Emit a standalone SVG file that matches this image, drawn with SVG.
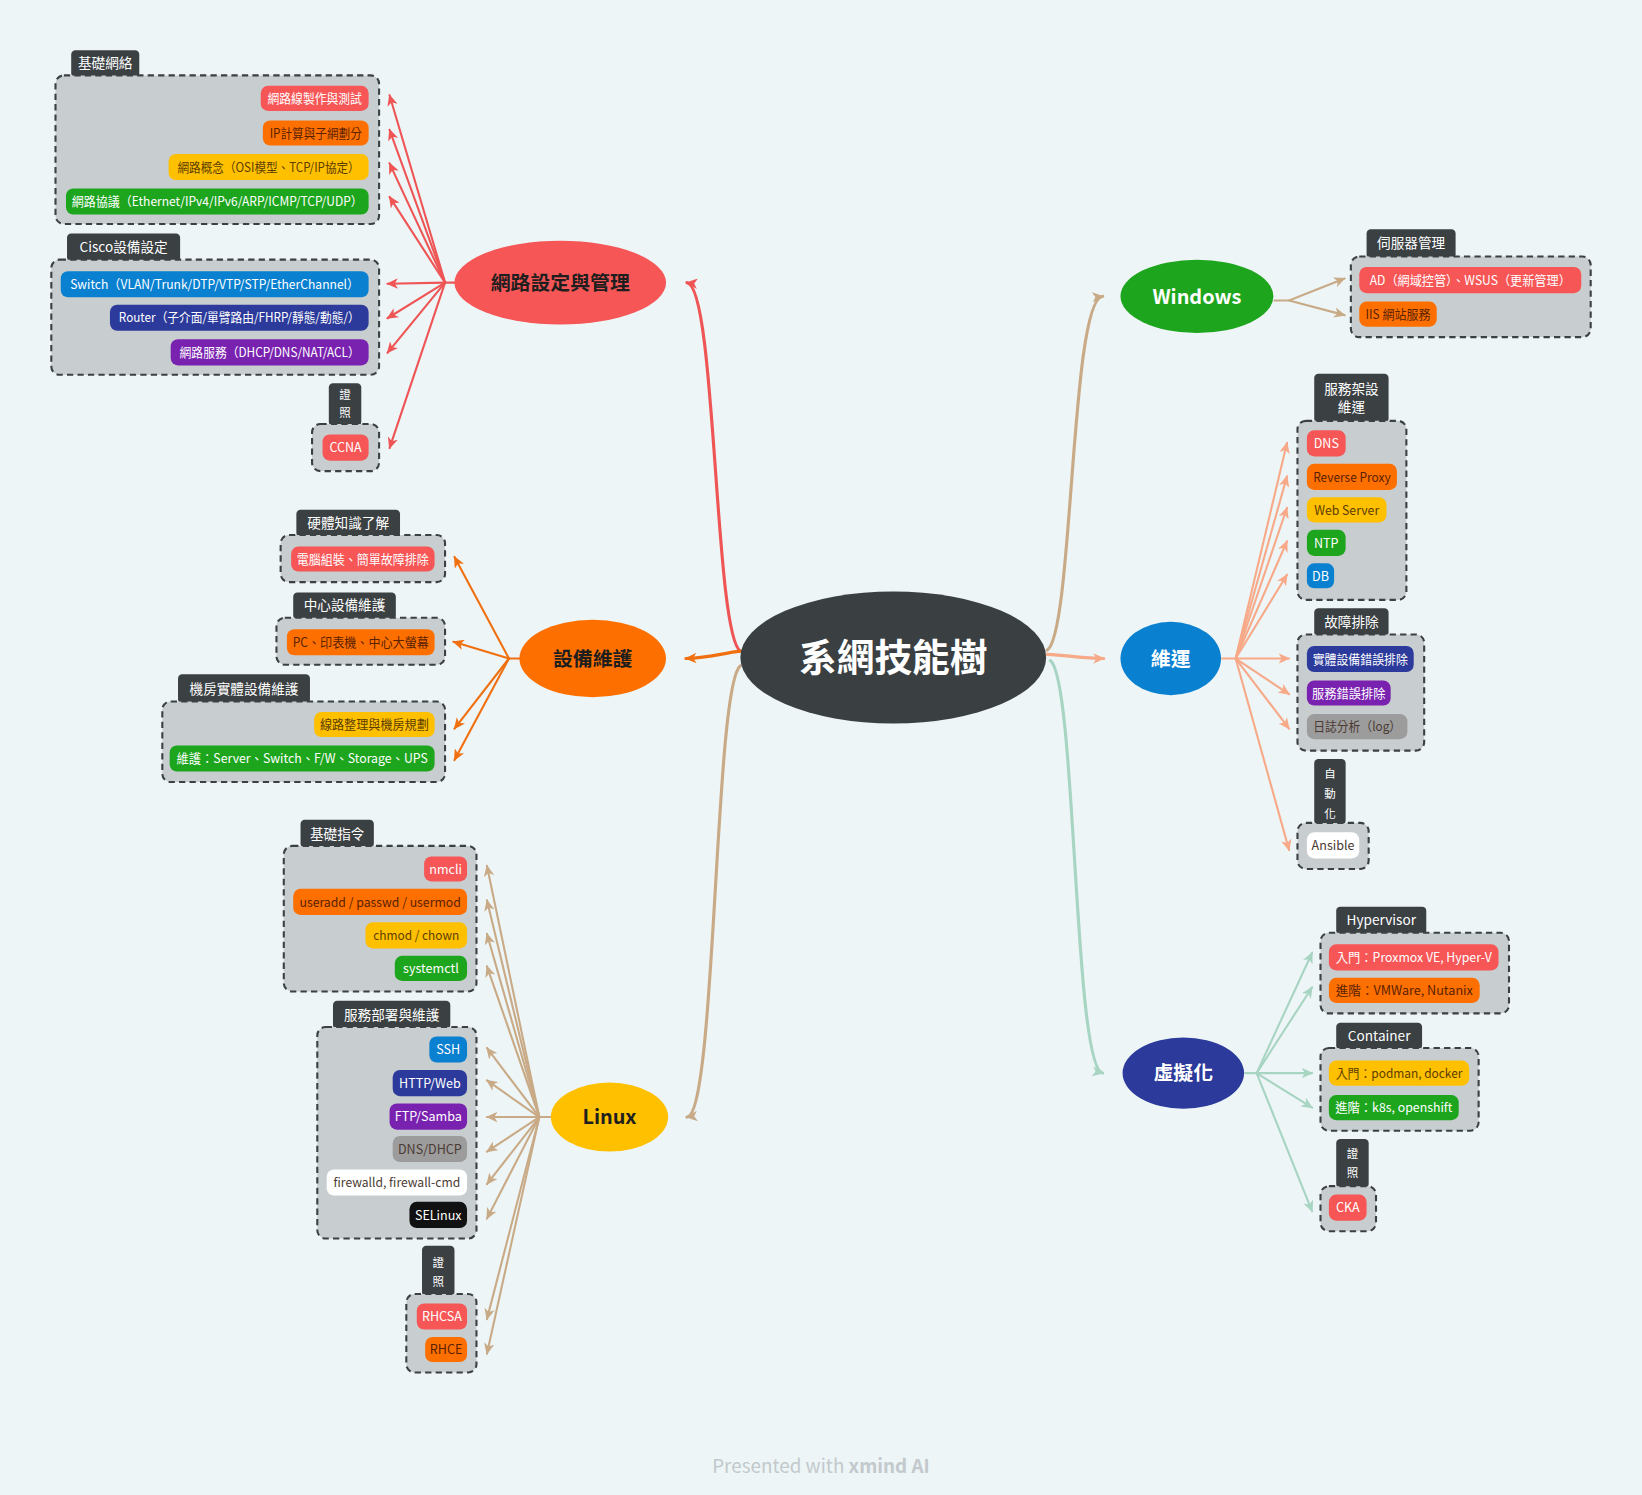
<svg xmlns="http://www.w3.org/2000/svg" width="1642" height="1495" viewBox="0 0 1642 1495">
<defs>
<style>
.t{font-family:"Noto Sans CJK TC","Noto Sans",sans-serif;}
.box{fill:#c8cdcf;stroke:#3b4043;stroke-width:2;stroke-dasharray:6 4;}
.tab{fill:#3b4043;}
.tt{fill:#ffffff;font-size:13px;text-anchor:middle;}
.vt{fill:#ffffff;font-size:11px;text-anchor:middle;}
.it{font-size:12px;text-anchor:middle;}
.w{fill:#ffffff;}
.d{fill:#5a2100;}
.yt{fill:#5c3d00;}
.gt{fill:#4b3a33;}
.red{fill:#f65656;}
.ora{fill:#fd7000;}
.yel{fill:#ffc000;}
.grn{fill:#1ea51e;}
.blu{fill:#0a80d0;}
.nav{fill:#2b3a9b;}
.pur{fill:#7a22b0;}
.gry{fill:#9c9c9c;}
.wht{fill:#ffffff;}
.blk{fill:#111111;}
.main{fill:none;stroke-width:3;stroke-linecap:round;}
.fan{fill:none;stroke-width:2;stroke-linecap:round;}
.bn{font-size:19px;font-weight:bold;text-anchor:middle;}
</style>
<marker id="mr" viewBox="0 0 11 10" refX="10" refY="5" markerWidth="11" markerHeight="10" markerUnits="userSpaceOnUse" orient="auto"><path d="M0,0 L11,5 L0,10 L3,5 Z" fill="#ef5555"/></marker>
<marker id="mo" viewBox="0 0 11 10" refX="10" refY="5" markerWidth="11" markerHeight="10" markerUnits="userSpaceOnUse" orient="auto"><path d="M0,0 L11,5 L0,10 L3,5 Z" fill="#f07010"/></marker>
<marker id="mt" viewBox="0 0 11 10" refX="10" refY="5" markerWidth="11" markerHeight="10" markerUnits="userSpaceOnUse" orient="auto"><path d="M0,0 L11,5 L0,10 L3,5 Z" fill="#c9aa86"/></marker>
<marker id="ms" viewBox="0 0 11 10" refX="10" refY="5" markerWidth="11" markerHeight="10" markerUnits="userSpaceOnUse" orient="auto"><path d="M0,0 L11,5 L0,10 L3,5 Z" fill="#f7a988"/></marker>
<marker id="mm" viewBox="0 0 11 10" refX="10" refY="5" markerWidth="11" markerHeight="10" markerUnits="userSpaceOnUse" orient="auto"><path d="M0,0 L11,5 L0,10 L3,5 Z" fill="#a8d4c2"/></marker>
</defs>
<rect x="0" y="0" width="1642" height="1495" fill="#edf5f7"/>
<g transform="scale(1.04719,1.04692)">

<g id="connectors">
<path class="main" stroke="#ef5555" marker-end="url(#mr)" d="M707,622 C682,605 684,273 656,270"/>
<path class="main" stroke="#f07010" marker-end="url(#mo)" d="M707,622 C690,624 678,628 655,629"/>
<path class="main" stroke="#c9aa86" marker-end="url(#mt)" d="M707,636 C682,655 684,1064 656,1067"/>
<path class="main" stroke="#c9aa86" marker-end="url(#mt)" d="M1000,621 C1025,605 1022,286 1053,283"/>
<path class="main" stroke="#f7a988" marker-end="url(#ms)" d="M1000,625 C1020,626 1035,629 1054,629"/>
<path class="main" stroke="#a8d4c2" marker-end="url(#mm)" d="M1003,631 C1028,650 1025,1020 1053,1025"/>

<g stroke="#ef5555" marker-end="url(#mr)">
<path class="fan" d="M435,270 L425,270 L372,91"/>
<path class="fan" d="M425,270 L372,124"/>
<path class="fan" d="M425,270 L372,156"/>
<path class="fan" d="M425,270 L372,188"/>
<path class="fan" d="M425,270 L370,271"/>
<path class="fan" d="M425,270 L370,304"/>
<path class="fan" d="M425,270 L370,337"/>
<path class="fan" d="M425,270 L372,428"/>
</g>
<g stroke="#f07010" marker-end="url(#mo)">
<path class="fan" d="M497,629 L486,629 L434,532"/>
<path class="fan" d="M486,629 L433,613"/>
<path class="fan" d="M486,629 L434,696"/>
<path class="fan" d="M486,629 L434,726"/>
</g>
<g stroke="#c9aa86" marker-end="url(#mt)">
<path class="fan" d="M527,1067 L515,1067 L465,827"/>
<path class="fan" d="M515,1067 L465,860"/>
<path class="fan" d="M515,1067 L465,892"/>
<path class="fan" d="M515,1067 L465,923"/>
<path class="fan" d="M515,1067 L465,1001"/>
<path class="fan" d="M515,1067 L465,1032"/>
<path class="fan" d="M515,1067 L465,1067"/>
<path class="fan" d="M515,1067 L465,1100"/>
<path class="fan" d="M515,1067 L465,1131"/>
<path class="fan" d="M515,1067 L465,1164"/>
<path class="fan" d="M515,1067 L465,1260"/>
<path class="fan" d="M515,1067 L465,1293"/>
</g>
<g stroke="#c9aa86" marker-end="url(#mt)">
<path class="fan" d="M1217,287 L1231,287 L1284,266"/>
<path class="fan" d="M1231,287 L1284,301"/>
</g>
<g stroke="#f7a988" marker-end="url(#ms)">
<path class="fan" d="M1167,629 L1180,629 L1229,423"/>
<path class="fan" d="M1180,629 L1229,455"/>
<path class="fan" d="M1180,629 L1229,485"/>
<path class="fan" d="M1180,629 L1229,517"/>
<path class="fan" d="M1180,629 L1229,549"/>
<path class="fan" d="M1180,629 L1231,629"/>
<path class="fan" d="M1180,629 L1231,663"/>
<path class="fan" d="M1180,629 L1231,696"/>
<path class="fan" d="M1180,629 L1231,812"/>
</g>
<g stroke="#a8d4c2" marker-end="url(#mm)">
<path class="fan" d="M1189,1025 L1200,1025 L1253,910"/>
<path class="fan" d="M1200,1025 L1253,943"/>
<path class="fan" d="M1200,1025 L1253,1025"/>
<path class="fan" d="M1200,1025 L1253,1058"/>
<path class="fan" d="M1200,1025 L1253,1157"/>
</g>
</g>

<g id="center">
<ellipse cx="853" cy="628" rx="146" ry="63" fill="#3a3f42"/>
<text class="t" x="853" y="641" font-size="36" font-weight="bold" fill="#ffffff" text-anchor="middle">系網技能樹</text>
</g>

<g id="net">
<ellipse cx="535" cy="270" rx="101" ry="40" fill="#f65656"/>
<text class="t bn" x="535" y="277" fill="#1e1e1e">網路設定與管理</text>
</g>
<g id="net-basic">
<rect class="tab" x="68" y="48" width="65" height="26" rx="4"/>
<rect class="box" x="53" y="72" width="309" height="142" rx="8"/>
<text class="t tt" x="100.5" y="65" font-size="12">基礎網絡</text>
<rect class="red" x="249" y="82" width="103" height="24" rx="7"/>
<text class="t it w" x="300.5" y="98.5" textLength="90" lengthAdjust="spacingAndGlyphs">網路線製作與測試</text>
<rect class="ora" x="251" y="115" width="101" height="24" rx="7"/>
<text class="t it d" x="301.5" y="131.5" textLength="88" lengthAdjust="spacingAndGlyphs">IP計算與子網劃分</text>
<rect class="yel" x="161" y="147" width="191" height="25" rx="7"/>
<text class="t it yt" x="256.5" y="164" textLength="174" lengthAdjust="spacingAndGlyphs">網路概念（OSI模型、TCP/IP協定）</text>
<rect class="grn" x="63" y="180" width="289" height="25" rx="7"/>
<text class="t it w" x="207.5" y="197" textLength="278" lengthAdjust="spacingAndGlyphs">網路協議（Ethernet/IPv4/IPv6/ARP/ICMP/TCP/UDP）</text>
</g>
<g id="net-cisco">
<rect class="tab" x="64" y="223" width="108" height="27" rx="4"/>
<rect class="box" x="49" y="248" width="313" height="110" rx="8"/>
<text class="t tt" x="118" y="241" font-size="14">Cisco設備設定</text>
<rect class="blu" x="58" y="259" width="294" height="25" rx="7"/>
<text class="t it w" x="205" y="276" textLength="276" lengthAdjust="spacingAndGlyphs">Switch（VLAN/Trunk/DTP/VTP/STP/EtherChannel）</text>
<rect class="nav" x="105" y="291" width="247" height="25" rx="7"/>
<text class="t it w" x="228.5" y="308" textLength="230" lengthAdjust="spacingAndGlyphs">Router（子介面/單臂路由/FHRP/靜態/動態/）</text>
<rect class="pur" x="163" y="324" width="189" height="25" rx="7"/>
<text class="t it w" x="257.5" y="341" textLength="172" lengthAdjust="spacingAndGlyphs">網路服務（DHCP/DNS/NAT/ACL）</text>
</g>
<g id="net-cert">
<rect class="tab" x="314" y="366" width="31" height="41" rx="4"/>
<rect class="box" x="298" y="405" width="64" height="45" rx="8"/>
<text class="t vt" x="329.5" y="381">證</text>
<text class="t vt" x="329.5" y="398">照</text>
<rect class="red" x="308" y="415" width="44" height="25" rx="7"/>
<text class="t it w" x="330" y="432">CCNA</text>
</g>

<g id="equip">
<ellipse cx="566" cy="629" rx="70" ry="37" fill="#fd7000"/>
<text class="t bn" x="566" y="636" fill="#1e1e1e">設備維護</text>
</g>
<g id="equip-hw">
<rect class="tab" x="283" y="487" width="99" height="26" rx="4"/>
<rect class="box" x="268" y="511" width="157" height="45" rx="8"/>
<text class="t tt" x="332.5" y="504">硬體知識了解</text>
<rect class="red" x="278" y="522" width="137" height="24" rx="7"/>
<text class="t it w" x="346.5" y="538.5" textLength="126" lengthAdjust="spacingAndGlyphs">電腦組裝、簡單故障排除</text>
</g>
<g id="equip-center">
<rect class="tab" x="280" y="566" width="98" height="26" rx="4"/>
<rect class="box" x="264" y="590" width="161" height="45" rx="8"/>
<text class="t tt" x="329" y="583">中心設備維護</text>
<rect class="ora" x="274" y="601" width="141" height="25" rx="7"/>
<text class="t it d" x="344.5" y="618" textLength="130" lengthAdjust="spacingAndGlyphs">PC、印表機、中心大螢幕</text>
</g>
<g id="equip-room">
<rect class="tab" x="170" y="644" width="126" height="28" rx="4"/>
<rect class="box" x="155" y="670" width="270" height="77" rx="8"/>
<text class="t tt" x="233" y="663">機房實體設備維護</text>
<rect class="yel" x="300" y="680" width="115" height="24" rx="7"/>
<text class="t it yt" x="357.5" y="696.5" textLength="104" lengthAdjust="spacingAndGlyphs">線路整理與機房規劃</text>
<rect class="grn" x="162" y="712" width="253" height="25" rx="7"/>
<text class="t it w" x="288.5" y="729" textLength="240" lengthAdjust="spacingAndGlyphs">維護：Server、Switch、F/W、Storage、UPS</text>
</g>

<g id="linux">
<ellipse cx="582" cy="1067" rx="56" ry="33" fill="#ffc000"/>
<text class="t bn" x="582" y="1074" font-size="20" fill="#1e1e1e">Linux</text>
</g>
<g id="linux-basic">
<rect class="tab" x="287" y="783" width="70" height="27" rx="4"/>
<rect class="box" x="271" y="808" width="184" height="139" rx="8"/>
<text class="t tt" x="322" y="801">基礎指令</text>
<rect class="red" x="405" y="818" width="41" height="24" rx="7"/>
<text class="t it w" x="425.5" y="834.5">nmcli</text>
<rect class="ora" x="280" y="849" width="166" height="25" rx="7"/>
<text class="t it d" x="363" y="866" textLength="154" lengthAdjust="spacingAndGlyphs">useradd / passwd / usermod</text>
<rect class="yel" x="349" y="881" width="97" height="25" rx="7"/>
<text class="t it yt" x="397.5" y="898" textLength="82" lengthAdjust="spacingAndGlyphs">chmod / chown</text>
<rect class="grn" x="377" y="913" width="69" height="24" rx="7"/>
<text class="t it w" x="411.5" y="929.5">systemctl</text>
</g>
<g id="linux-service">
<rect class="tab" x="318" y="956" width="112" height="27" rx="4"/>
<rect class="box" x="303" y="981" width="152" height="202" rx="8"/>
<text class="t tt" x="374" y="974">服務部署與維護</text>
<rect class="blu" x="410" y="990" width="36" height="25" rx="7"/>
<text class="t it w" x="428" y="1007">SSH</text>
<rect class="nav" x="375" y="1022" width="71" height="25" rx="7"/>
<text class="t it w" x="410.5" y="1039">HTTP/Web</text>
<rect class="pur" x="372" y="1054" width="74" height="25" rx="7"/>
<text class="t it w" x="409" y="1071">FTP/Samba</text>
<rect class="gry" x="375" y="1085" width="71" height="25" rx="7"/>
<text class="t it gt" x="410.5" y="1102">DNS/DHCP</text>
<rect class="wht" x="312" y="1117" width="134" height="25" rx="7"/>
<text class="t it gt" x="379" y="1134" textLength="121" lengthAdjust="spacingAndGlyphs">firewalld, firewall-cmd</text>
<rect class="blk" x="391" y="1148" width="55" height="25" rx="7"/>
<text class="t it w" x="418.5" y="1165">SELinux</text>
</g>
<g id="linux-cert">
<rect class="tab" x="403" y="1190" width="31" height="48" rx="4"/>
<rect class="box" x="388" y="1236" width="67" height="75" rx="8"/>
<text class="t vt" x="418.5" y="1210">證</text>
<text class="t vt" x="418.5" y="1228">照</text>
<rect class="red" x="398" y="1245" width="48" height="25" rx="7"/>
<text class="t it w" x="422" y="1262">RHCSA</text>
<rect class="ora" x="406" y="1277" width="40" height="24" rx="7"/>
<text class="t it d" x="426" y="1293.5">RHCE</text>
</g>

<g id="windows">
<ellipse cx="1143" cy="283" rx="73" ry="35" fill="#1ea51e"/>
<text class="t bn" x="1143" y="290" fill="#ffffff">Windows</text>
</g>
<g id="win-server">
<rect class="tab" x="1305" y="219" width="85" height="28" rx="4"/>
<rect class="box" x="1290" y="245" width="229" height="77" rx="8"/>
<text class="t tt" x="1347.5" y="237">伺服器管理</text>
<rect class="red" x="1298" y="255" width="212" height="25" rx="7"/>
<text class="t it w" x="1404" y="272" textLength="192" lengthAdjust="spacingAndGlyphs">AD（網域控管）、WSUS（更新管理）</text>
<rect class="ora" x="1298" y="288" width="74" height="24" rx="7"/>
<text class="t it d" x="1335" y="304.5" textLength="62" lengthAdjust="spacingAndGlyphs">IIS 網站服務</text>
</g>

<g id="ops">
<ellipse cx="1118" cy="629" rx="48" ry="35" fill="#0a80d0"/>
<text class="t bn" x="1118" y="636" fill="#ffffff">維運</text>
</g>
<g id="ops-service">
<rect class="tab" x="1255" y="357" width="71" height="47" rx="4"/>
<rect class="box" x="1239" y="402" width="104" height="171" rx="8"/>
<text class="t tt" x="1290.5" y="376">服務架設</text>
<text class="t tt" x="1290.5" y="394">維運</text>
<rect class="red" x="1248" y="411" width="37" height="25" rx="7"/>
<text class="t it w" x="1266.5" y="428">DNS</text>
<rect class="ora" x="1248" y="443" width="86" height="25" rx="7"/>
<text class="t it d" x="1291" y="460" textLength="74" lengthAdjust="spacingAndGlyphs">Reverse Proxy</text>
<rect class="yel" x="1248" y="475" width="76" height="24" rx="7"/>
<text class="t it yt" x="1286" y="491.5" textLength="62" lengthAdjust="spacingAndGlyphs">Web Server</text>
<rect class="grn" x="1248" y="506" width="37" height="25" rx="7"/>
<text class="t it w" x="1266.5" y="523">NTP</text>
<rect class="blu" x="1248" y="538" width="26" height="24" rx="7"/>
<text class="t it w" x="1261" y="554.5">DB</text>
</g>
<g id="ops-trouble">
<rect class="tab" x="1255" y="581" width="71" height="27" rx="4"/>
<rect class="box" x="1239" y="606" width="121" height="111" rx="8"/>
<text class="t tt" x="1290.5" y="599">故障排除</text>
<rect class="nav" x="1248" y="617" width="102" height="25" rx="7"/>
<text class="t it w" x="1299" y="634" textLength="91" lengthAdjust="spacingAndGlyphs">實體設備錯誤排除</text>
<rect class="pur" x="1248" y="650" width="80" height="24" rx="7"/>
<text class="t it w" x="1288" y="666.5" textLength="70" lengthAdjust="spacingAndGlyphs">服務錯誤排除</text>
<rect class="gry" x="1248" y="682" width="96" height="24" rx="7"/>
<text class="t it gt" x="1296" y="698.5" textLength="84" lengthAdjust="spacingAndGlyphs">日誌分析（log）</text>
</g>
<g id="ops-auto">
<rect class="tab" x="1255" y="725" width="30" height="63" rx="4"/>
<rect class="box" x="1239" y="786" width="68" height="44" rx="8"/>
<text class="t vt" x="1270" y="743">自</text>
<text class="t vt" x="1270" y="762">動</text>
<text class="t vt" x="1270" y="781">化</text>
<rect class="wht" x="1248" y="795" width="50" height="25" rx="7"/>
<text class="t it gt" x="1273" y="812">Ansible</text>
</g>

<g id="virt">
<ellipse cx="1130" cy="1025" rx="58" ry="34" fill="#2b3a9b"/>
<text class="t bn" x="1130" y="1032" fill="#ffffff">虛擬化</text>
</g>
<g id="virt-hyper">
<rect class="tab" x="1276" y="866" width="86" height="27" rx="4"/>
<rect class="box" x="1261" y="891" width="180" height="77" rx="8"/>
<text class="t tt" x="1319" y="884" font-size="14">Hypervisor</text>
<rect class="red" x="1269" y="902" width="162" height="25" rx="7"/>
<text class="t it w" x="1350" y="919" textLength="149" lengthAdjust="spacingAndGlyphs">入門：Proxmox VE, Hyper-V</text>
<rect class="ora" x="1269" y="934" width="144" height="24" rx="7"/>
<text class="t it d" x="1341" y="950.5" textLength="131" lengthAdjust="spacingAndGlyphs">進階：VMWare, Nutanix</text>
</g>
<g id="virt-container">
<rect class="tab" x="1276" y="977" width="82" height="26" rx="4"/>
<rect class="box" x="1261" y="1001" width="151" height="79" rx="8"/>
<text class="t tt" x="1317" y="994" font-size="14">Container</text>
<rect class="yel" x="1269" y="1013" width="134" height="24" rx="7"/>
<text class="t it yt" x="1336" y="1029.5" textLength="121" lengthAdjust="spacingAndGlyphs">入門：podman, docker</text>
<rect class="grn" x="1269" y="1046" width="124" height="24" rx="7"/>
<text class="t it w" x="1331" y="1062.5" textLength="112" lengthAdjust="spacingAndGlyphs">進階：k8s, openshift</text>
</g>
<g id="virt-cert">
<rect class="tab" x="1276" y="1088" width="31" height="47" rx="4"/>
<rect class="box" x="1261" y="1133" width="53" height="43" rx="8"/>
<text class="t vt" x="1291.5" y="1106">證</text>
<text class="t vt" x="1291.5" y="1124">照</text>
<rect class="red" x="1269" y="1141" width="36" height="25" rx="7"/>
<text class="t it w" x="1287" y="1158">CKA</text>
</g>

<g id="footer">
<text class="t" x="784" y="1407" font-size="18" fill="#c3c9cc" text-anchor="middle">Presented with <tspan font-weight="bold">xmind AI</tspan></text>
</g>
</g>
</svg>
